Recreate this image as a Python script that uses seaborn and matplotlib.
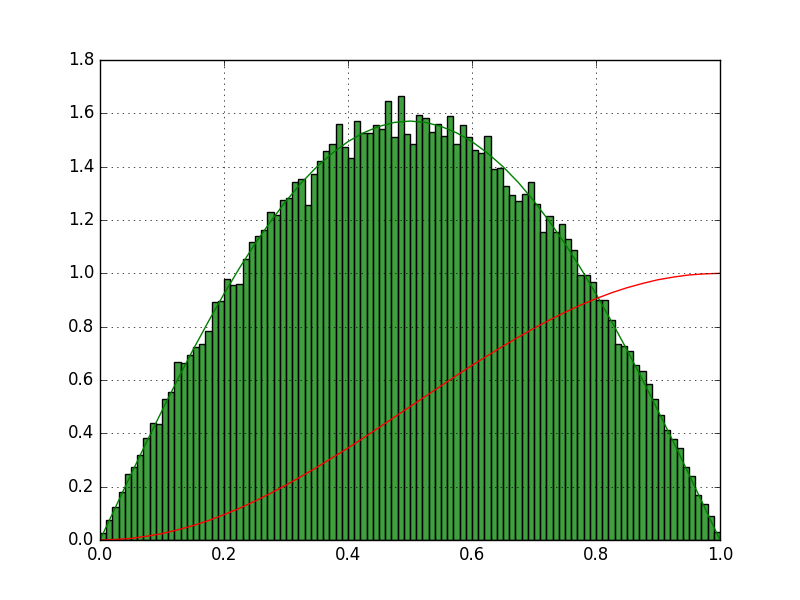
import matplotlib
matplotlib.use("Agg")
import matplotlib.pyplot as plt
import numpy as np
import pandas as pd
import seaborn as sns

# bar heights of the 100-bin density histogram (bins of width 0.01 on [0, 1])
bin_heights = [
    0.028, 0.074, 0.123, 0.179, 0.246, 0.273, 0.318, 0.381, 0.438, 0.434,
    0.528, 0.554, 0.666, 0.663, 0.693, 0.723, 0.734, 0.782, 0.891, 0.895,
    0.977, 0.955, 0.959, 1.052, 1.116, 1.139, 1.161, 1.229, 1.218, 1.274,
    1.281, 1.341, 1.352, 1.255, 1.371, 1.420, 1.457, 1.484, 1.559, 1.472,
    1.432, 1.570, 1.525, 1.525, 1.555, 1.541, 1.646, 1.510, 1.664, 1.521,
    1.484, 1.592, 1.581, 1.529, 1.559, 1.514, 1.589, 1.484, 1.555, 1.510,
    1.461, 1.451, 1.514, 1.390, 1.394, 1.326, 1.292, 1.270, 1.296, 1.341,
    1.260, 1.154, 1.214, 1.154, 1.184, 1.127, 1.086, 0.992, 0.992, 0.966,
    0.899, 0.899, 0.824, 0.734, 0.726, 0.707, 0.655, 0.632, 0.584, 0.528,
    0.468, 0.411, 0.378, 0.344, 0.273, 0.239, 0.168, 0.134, 0.089, 0.030,
]
n_bins = len(bin_heights)
bin_centers = (np.arange(n_bins) + 0.5) / n_bins

# curves (every 0.025)
curve_x = [0.000, 0.025, 0.050, 0.075, 0.100, 0.125, 0.150, 0.175, 0.200, 0.225,
           0.250, 0.275, 0.300, 0.325, 0.350, 0.375, 0.400, 0.425, 0.450, 0.475,
           0.500, 0.525, 0.550, 0.575, 0.600, 0.625, 0.650, 0.675, 0.700, 0.725,
           0.750, 0.775, 0.800, 0.825, 0.850, 0.875, 0.900, 0.925, 0.950, 0.975, 1.000]
density_y = [0.000, 0.123, 0.246, 0.367, 0.485, 0.601, 0.713, 0.820, 0.923, 1.020,
             1.111, 1.194, 1.271, 1.340, 1.400, 1.451, 1.494, 1.527, 1.551, 1.566,
             1.571, 1.566, 1.551, 1.527, 1.494, 1.451, 1.400, 1.340, 1.271, 1.194,
             1.111, 1.020, 0.923, 0.820, 0.713, 0.601, 0.485, 0.367, 0.246, 0.123, 0.000]
cumulative_y = [0.000, 0.002, 0.006, 0.014, 0.024, 0.038, 0.054, 0.073, 0.095, 0.119,
                0.146, 0.175, 0.206, 0.239, 0.273, 0.309, 0.345, 0.383, 0.422, 0.461,
                0.500, 0.539, 0.578, 0.617, 0.655, 0.691, 0.727, 0.761, 0.794, 0.825,
                0.854, 0.881, 0.905, 0.927, 0.946, 0.962, 0.976, 0.986, 0.994, 0.998, 1.000]

plt.style.use("classic")
fig = plt.figure(figsize=(8, 6), dpi=100, facecolor="white")
ax = fig.add_axes([0.125, 0.1, 0.775, 0.8])

hist_df = pd.DataFrame({"center": bin_centers, "height": bin_heights})
sns.histplot(data=hist_df, x="center", weights="height", bins=n_bins, binrange=(0, 1),
             stat="count", color="green", alpha=0.75, edgecolor="black", linewidth=1.0, ax=ax)

curves = pd.DataFrame({"x": curve_x, "density": density_y, "cdf": cumulative_y})
sns.lineplot(data=curves, x="x", y="density", color="g", linewidth=1.0, ax=ax)
sns.lineplot(data=curves, x="x", y="cdf", color="r", linewidth=1.0, ax=ax)

ax.set_xlim(0, 1)
ax.set_ylim(0, 1.8)
ax.set_xticks(np.arange(0, 1.01, 0.2))
ax.set_yticks(np.arange(0, 1.81, 0.2))
ax.set_xticklabels([f"{v:.1f}" for v in np.arange(0, 1.01, 0.2)])
ax.set_yticklabels([f"{v:.1f}" for v in np.arange(0, 1.81, 0.2)])
ax.set_xlabel("")
ax.set_ylabel("")
ax.grid(True, color="black", linestyle=":", linewidth=0.5)
ax.set_axisbelow(False)

fig.savefig("out.png", dpi=100, facecolor="white")
